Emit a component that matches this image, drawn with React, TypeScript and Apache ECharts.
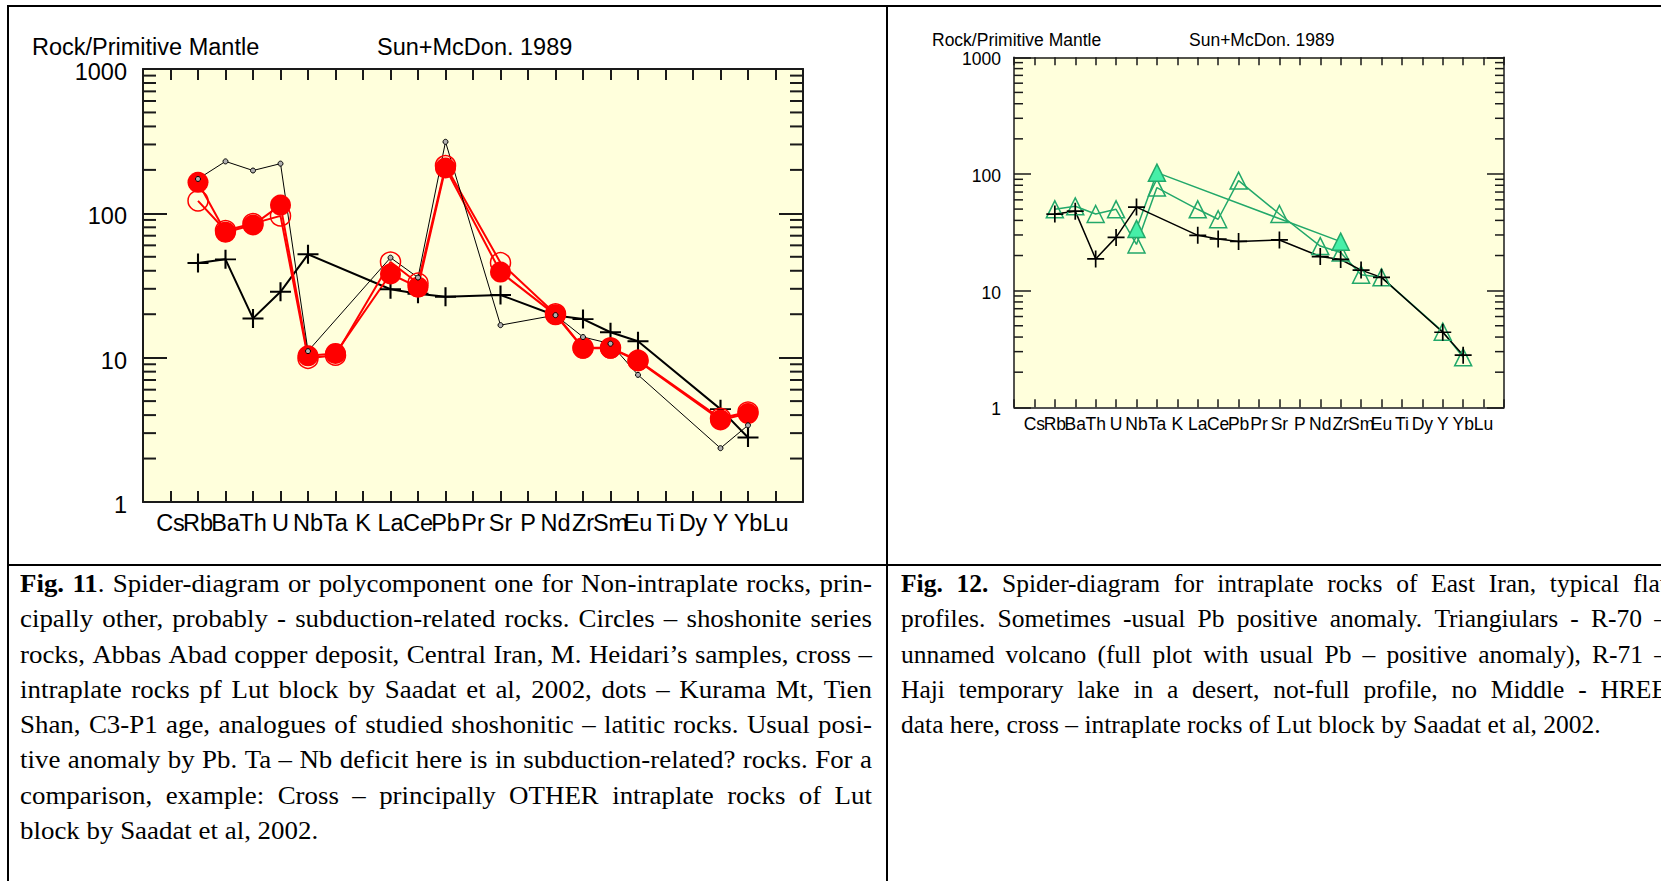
import React, { useEffect, useRef } from "react";
import * as echarts from "echarts";

// ---------- data ----------
const elements = ["Cs","Rb","Ba","Th","U","Nb","Ta","K","La","Ce","Pb","Pr","Sr","P","Nd","Zr","Sm","Eu","Ti","Dy","Y","Yb","Lu"];
const minorTickValues = [2,3,4,5,6,7,8,9,20,30,40,50,60,70,80,90,200,300,400,500,600,700,800,900];

// Fig. 11 — shoshonite series (filled circles), Abbas Abad
const shoshoniteFilled = [null,164,74,83,114,10.3,10.7,null,38,30.8,206,null,39.2,null,19.8,11.6,11.6,9.5,null,null,3.7,4.1,null];
// Fig. 11 — shoshonite series (open circles)
const shoshoniteOpen = [null,122,76,85,96,9.9,10.4,null,46,32.8,214,null,45.5,null,20.1,11.7,11.7,9.6,null,null,3.8,4.2,null];
// Fig. 11 — dots, Kurama Mt
const kuramaDots = [null,173,229,198,221,11.1,null,null,49.3,35.9,313,null,16.8,null,19.7,13.9,12.5,7.6,null,null,2.36,3.4,null];
// Cross — intraplate rocks of Lut block (Saadat et al, 2002), both figures
const lutBlock = [null,45.3,48,18.7,28.6,52,null,null,29.8,27.7,26.4,null,27.2,null,19.6,18.5,15,13,null,null,4.4,2.8,null];
// Fig. 12 — R-70 (open triangles)
const r70 = [null,49.8,52.8,45.4,49.8,24.9,76.4,null,49.8,40.9,87.7,null,45.4,null,24.1,21.2,13.7,13.0,null,null,4.45,2.68,null];
// Fig. 12 — R-71 (filled triangles)
const r71 = [null,null,null,null,null,33.8,102.6,null,null,null,null,null,null,null,null,26.3,null,null,null,null,null,null,null];

const fig11Lines = [
  "Fig. 11. Spider-diagram or polycomponent one for Non-intraplate rocks, prin-",
  "cipally other, probably - subduction-related rocks.  Circles – shoshonite series",
  "rocks, Abbas Abad copper deposit, Central Iran, M. Heidari’s samples, cross –",
  "intraplate rocks pf Lut block by Saadat et al, 2002, dots – Kurama Mt, Tien",
  "Shan, C3-P1 age, analogues of studied shoshonitic – latitic rocks. Usual posi-",
  "tive anomaly by Pb. Ta – Nb deficit here is in subduction-related? rocks. For a",
  "comparison, example: Cross – principally OTHER intraplate rocks of Lut",
  "block by Saadat et al, 2002.",
];
const fig12Lines = [
  "Fig. 12. Spider-diagram for intraplate rocks of East Iran, typical flat",
  "profiles. Sometimes -usual Pb positive anomaly. Triangiulars - R-70 –",
  "unnamed volcano (full plot with usual Pb – positive anomaly), R-71 –",
  "Haji temporary lake in a desert, not-full profile, no Middle - HREE",
  "data here, cross – intraplate rocks of Lut block by Saadat et al, 2002.",
];

// ---------- helpers ----------
const toPairs = (vals: (number | null)[]) =>
  vals.map((v, i) => (v == null ? null : [i + 1, v])).filter((p) => p !== null);

const CROSS = "path://M9 0h2v9h9v2h-9v9h-2v-9h-9v-2h9z";
const SANS = '"Liberation Sans", Arial, sans-serif';
const SERIF = '"Liberation Serif", "Times New Roman", serif';
const FRAME = "#1a1a1a";

function xAxes(gridIndex: number, lw: number, tickLen: number, fontSize: number, margin: number) {
  const base = {
    gridIndex, type: "value", min: 0, max: 24, interval: 1,
    axisLine: { onZero: false, lineStyle: { color: FRAME, width: lw } },
    axisTick: { inside: true, length: tickLen, lineStyle: { color: FRAME, width: lw } },
    splitLine: { show: false },
  };
  return [
    { ...base, position: "bottom",
      axisLabel: { margin, color: "#000", fontFamily: SANS, fontSize,
        formatter: (v: number) => elements[v - 1] || "" } },
    { ...base, position: "top", axisLabel: { show: false } },
  ];
}
function yAxes(gridIndex: number, lw: number, tickLen: number, fontSize: number, margin: number, lh: number) {
  const base = {
    gridIndex, type: "log", logBase: 10, min: 1, max: 1000,
    axisLine: { onZero: false, lineStyle: { color: FRAME, width: lw } },
    axisTick: { inside: true, length: tickLen, lineStyle: { color: FRAME, width: lw } },
    splitLine: { show: false },
  };
  return [
    { ...base, position: "left",
      axisLabel: { margin, color: "#000", fontFamily: SANS, fontSize,
        verticalAlign: "top", lineHeight: lh,
        formatter: (v: number) => String(Math.round(v)) } },
    { ...base, position: "right", axisLabel: { show: false } },
  ];
}
function minorTicks(axisIndex: number, len: number, lw: number) {
  return {
    type: "custom", xAxisIndex: axisIndex, yAxisIndex: axisIndex, silent: true, z: 5,
    data: minorTickValues.map((v) => [0, v]),
    renderItem: (params: any, api: any) => {
      const v = api.value(1);
      const l = api.coord([0, v]);
      const r = api.coord([24, v]);
      const st = { stroke: FRAME, lineWidth: lw };
      return {
        type: "group",
        children: [
          { type: "line", shape: { x1: l[0], y1: l[1], x2: l[0] + len, y2: l[1] }, style: st },
          { type: "line", shape: { x1: r[0] - len, y1: r[1], x2: r[0], y2: r[1] }, style: st },
        ],
      };
    },
  };
}

const RED = "#ff0000";
const GREEN = "#22a86a";

function Chart() {
  const ref = useRef<HTMLDivElement>(null);
  useEffect(() => {
    if (!ref.current) return;
    const chart = echarts.init(ref.current, null, { renderer: "svg" });
    const xa = [...xAxes(0, 2, 11, 23.5, 9), ...xAxes(1, 1.5, 8, 17.5, 8)];
    const ya = [...yAxes(0, 2, 24, 23.5, 16, 6), ...yAxes(1, 1.5, 17, 17.5, 13, 4)];
    const option: any = {
      animation: false,
      grid: [
        { left: 143, top: 69, width: 660, height: 433, show: true, backgroundColor: "#ffffdc", borderWidth: 0 },
        { left: 1014, top: 57.3, width: 490, height: 350, show: true, backgroundColor: "#ffffdc", borderWidth: 0 },
      ],
      xAxis: xa,
      yAxis: ya,
      graphic: [
        { type: "text", x: 32, y: 47, style: { text: "Rock/Primitive Mantle", fontFamily: SANS, fontSize: 23.5, fill: "#000", verticalAlign: "middle" } },
        { type: "text", x: 377, y: 47, style: { text: "Sun+McDon. 1989", fontFamily: SANS, fontSize: 23.5, fill: "#000", verticalAlign: "middle" } },
        { type: "text", x: 932, y: 40, style: { text: "Rock/Primitive Mantle", fontFamily: SANS, fontSize: 17.5, fill: "#000", verticalAlign: "middle" } },
        { type: "text", x: 1189, y: 40, style: { text: "Sun+McDon. 1989", fontFamily: SANS, fontSize: 17.5, fill: "#000", verticalAlign: "middle" } },
      ],
      series: [
        minorTicks(0, 13, 2),
        minorTicks(2, 9, 1.5),
        // Fig. 11
        { type: "line", xAxisIndex: 0, yAxisIndex: 0, data: toPairs(lutBlock),
          symbol: CROSS, symbolSize: [21, 19], itemStyle: { color: "#000" },
          lineStyle: { color: "#000", width: 2 } },
        { type: "line", xAxisIndex: 0, yAxisIndex: 0, data: toPairs(shoshoniteOpen),
          symbol: "circle", symbolSize: 20,
          itemStyle: { color: "rgba(0,0,0,0)", borderColor: RED, borderWidth: 1.5 },
          lineStyle: { color: RED, width: 2 } },
        { type: "line", xAxisIndex: 0, yAxisIndex: 0, data: toPairs(shoshoniteFilled),
          symbol: "circle", symbolSize: 21, itemStyle: { color: RED },
          lineStyle: { color: RED, width: 2 } },
        { type: "line", xAxisIndex: 0, yAxisIndex: 0, data: toPairs(kuramaDots),
          symbol: "circle", symbolSize: 5,
          itemStyle: { color: "#b0b0b0", borderColor: "#000", borderWidth: 1 },
          lineStyle: { color: "#000", width: 1 } },
        // Fig. 12
        { type: "line", xAxisIndex: 2, yAxisIndex: 2, data: toPairs(r70),
          symbol: "triangle", symbolSize: 17,
          itemStyle: { color: "rgba(0,0,0,0)", borderColor: GREEN, borderWidth: 1.5 },
          lineStyle: { color: GREEN, width: 1.5 } },
        { type: "line", xAxisIndex: 2, yAxisIndex: 2, data: toPairs(r71),
          symbol: "triangle", symbolSize: 17,
          itemStyle: { color: "#46efa8", borderColor: GREEN, borderWidth: 1.5 },
          lineStyle: { color: GREEN, width: 1.5 } },
        { type: "line", xAxisIndex: 2, yAxisIndex: 2, data: toPairs(lutBlock),
          symbol: CROSS, symbolSize: 17, itemStyle: { color: "#000" },
          lineStyle: { color: "#000", width: 1.5 } },
      ],
    };
    chart.setOption(option);
    return () => chart.dispose();
  }, []);
  return <div ref={ref} style={{ position: "absolute", left: 0, top: 0, width: 1661, height: 881 }} />;
}

function Caption({ lines, bold, left, width, stretch }: { lines: string[]; bold: string[]; left: number; width: number; stretch: number }) {
  const LH = 35.3;
  const inner = width / stretch;
  return (
    <div style={{ position: "absolute", left, top: 566, width, fontFamily: SERIF, fontSize: 25.5, color: "#000" }}>
      {lines.map((line, li) => {
        const toks = line.split(/\s+/);
        const render = (t: string, ti: number) => {
          if (li === 0 && ti < bold.length) {
            const b = bold[ti];
            return (<span key={ti}><b>{b}</b>{t.slice(b.length)}</span>);
          }
          return <span key={ti}>{t}</span>;
        };
        const common: React.CSSProperties = {
          width: inner, height: LH, lineHeight: LH + "px", whiteSpace: "nowrap",
          transform: `scaleX(${stretch})`, transformOrigin: "0 0",
        };
        if (li === lines.length - 1) {
          return (
            <div key={li} style={common}>
              {toks.map((t, ti) => (<React.Fragment key={ti}>{ti > 0 ? " " : ""}{render(t, ti)}</React.Fragment>))}
            </div>
          );
        }
        return (
          <div key={li} style={{ ...common, display: "flex", justifyContent: "space-between" }}>
            {toks.map(render)}
          </div>
        );
      })}
    </div>
  );
}

export default function App() {
  const line = (s: React.CSSProperties) => <div style={{ position: "absolute", background: "#000", ...s }} />;
  return (
    <div style={{ position: "fixed", left: 0, top: 0, width: 1661, height: 881, overflow: "hidden", background: "#fff" }}>
      <Chart />
      {line({ left: 7, top: 5, width: 1661, height: 2 })}
      {line({ left: 7, top: 564, width: 1661, height: 2 })}
      {line({ left: 7, top: 5, width: 2, height: 881 })}
      {line({ left: 886, top: 5, width: 2, height: 881 })}
      <Caption lines={fig11Lines} bold={["Fig.", "11"]} left={20} width={852} stretch={1.055} />
      <Caption lines={fig12Lines} bold={["Fig.", "12."]} left={901} width={766} stretch={1.0} />
    </div>
  );
}
